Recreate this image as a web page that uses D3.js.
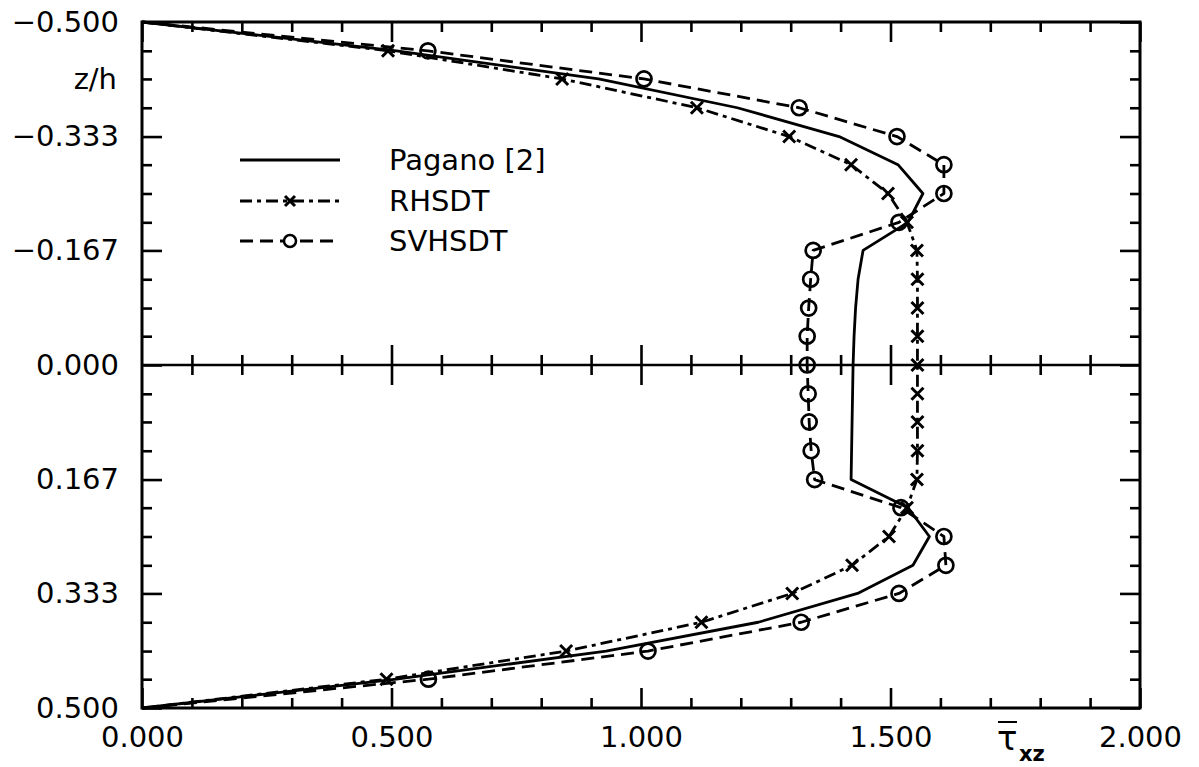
<!DOCTYPE html>
<html><head><meta charset="utf-8">
<script src="https://cdn.jsdelivr.net/npm/d3@7"></script>
<style>
body{margin:0;background:#fff;}
svg text{font-family:"DejaVu Sans",sans-serif;fill:#000;}
</style></head><body>
<svg id="chart" width="1199" height="767"></svg>
<script>
// ---- data ----
const zLevels = [-0.500,-0.458,-0.417,-0.375,-0.333,-0.292,-0.250,-0.208,-0.167,-0.125,-0.083,-0.042,0.000,
                 0.042,0.083,0.125,0.167,0.208,0.250,0.292,0.333,0.375,0.417,0.458,0.500];
const pagano = [0.000,0.510,0.915,1.193,1.397,1.515,1.565,1.535,1.445,1.435,1.430,1.427,1.425,
                1.424,1.423,1.422,1.421,1.535,1.578,1.545,1.434,1.235,0.930,0.510,0.000];
const rhsdt  = [0.000,0.493,0.842,1.112,1.297,1.421,1.495,1.533,1.553,1.554,1.554,1.554,1.554,
                1.554,1.554,1.554,1.553,1.533,1.497,1.423,1.303,1.121,0.850,0.490,0.000];
const svhsdt = [0.000,0.573,1.006,1.317,1.513,1.607,1.607,1.517,1.345,1.340,1.336,1.333,1.333,
                1.335,1.337,1.341,1.348,1.521,1.607,1.611,1.517,1.321,1.014,0.574,0.000];
const seriesNames = ["Pagano [2]","RHSDT","SVHSDT"];
const xMajorTicks = [0,0.5,1,1.5,2];
const xTickLabels = ["0.000","0.500","1.000","1.500","2.000"];
const xMinorTicks = [0.1,0.2,0.3,0.4,0.6,0.7,0.8,0.9,1.1,1.2,1.3,1.4,1.6,1.7,1.8,1.9];
const yMajorTicks = [-0.5,-0.333,-0.167,0,0.167,0.333,0.5];
const yTickLabels = ["\u22120.500","\u22120.333","\u22120.167","0.000","0.167","0.333","0.500"];
const yAxisTitle = "z/h";
const yAxisTitlePos = -0.417;

// ---- layout ----
const svg = d3.select("#chart");
const x = d3.scaleLinear().domain([0,2]).range([142,1140]);
const y = d3.scaleLinear().domain([-0.5,0.5]).range([22,708]);
const yMinorTicks = zLevels.filter(z => !yMajorTicks.some(m => Math.abs(m - z) < 0.002));
const MAJ = 20, MIN = 10, TW = 2.6;

function styleAxis(g){
  g.select(".domain").remove();
  g.selectAll(".tick line").attr("stroke","#000").attr("stroke-width",TW);
  g.selectAll(".tick text").style("font-size","29px").attr("fill","#000");
}
// bottom
svg.append("g").attr("transform",`translate(0,${y(0.5)})`)
  .call(d3.axisBottom(x).tickValues(xMajorTicks).tickSize(-MAJ).tickPadding(18)
        .tickFormat((d,i)=>xTickLabels[i])).call(styleAxis);
svg.append("g").attr("transform",`translate(0,${y(0.5)})`)
  .call(d3.axisBottom(x).tickValues(xMinorTicks).tickSize(-MIN).tickFormat("")).call(styleAxis);
// top
svg.append("g").attr("transform",`translate(0,${y(-0.5)})`)
  .call(d3.axisTop(x).tickValues(xMajorTicks).tickSize(-MAJ).tickFormat("")).call(styleAxis);
svg.append("g").attr("transform",`translate(0,${y(-0.5)})`)
  .call(d3.axisTop(x).tickValues(xMinorTicks).tickSize(-MIN).tickFormat("")).call(styleAxis);
// left
svg.append("g").attr("transform",`translate(${x(0)},0)`)
  .call(d3.axisLeft(y).tickValues(yMajorTicks).tickSize(-MAJ).tickPadding(23)
        .tickFormat((d,i)=>yTickLabels[i])).call(styleAxis);
svg.append("g").attr("transform",`translate(${x(0)},0)`)
  .call(d3.axisLeft(y).tickValues(yMinorTicks).tickSize(-MIN).tickFormat("")).call(styleAxis);
// right
svg.append("g").attr("transform",`translate(${x(2)},0)`)
  .call(d3.axisRight(y).tickValues(yMajorTicks).tickSize(-MAJ).tickFormat("")).call(styleAxis);
svg.append("g").attr("transform",`translate(${x(2)},0)`)
  .call(d3.axisRight(y).tickValues(yMinorTicks).tickSize(-MIN).tickFormat("")).call(styleAxis);
// middle axis z=0 with crossing ticks
[d3.axisBottom, d3.axisTop].forEach(ax=>{
  svg.append("g").attr("transform",`translate(0,${y(0)})`)
    .call(ax(x).tickValues(xMajorTicks.slice(1,-1)).tickSize(MAJ).tickFormat("")).call(styleAxis);
  svg.append("g").attr("transform",`translate(0,${y(0)})`)
    .call(ax(x).tickValues(xMinorTicks).tickSize(MIN).tickFormat("")).call(styleAxis);
});
svg.append("line").attr("x1",x(0)).attr("x2",x(2)).attr("y1",y(0)).attr("y2",y(0))
  .attr("stroke","#000").attr("stroke-width",TW);
// frame
svg.append("rect").attr("x",x(0)).attr("y",y(-0.5)).attr("width",x(2)-x(0)).attr("height",y(0.5)-y(-0.5))
  .attr("fill","none").attr("stroke","#000").attr("stroke-width",3);

// axis titles
svg.append("text").attr("x",117).attr("y",y(yAxisTitlePos)).attr("dy","0.35em")
  .attr("text-anchor","end").style("font-size","29px").text(yAxisTitle);
svg.append("text").attr("x",997).attr("y",750).style("font-size","34px").text("\u03C4");
svg.append("text").attr("x",1019).attr("y",761).style("font-size","21px").style("font-weight","bold").text("xz");
svg.append("line").attr("x1",998).attr("x2",1017).attr("y1",722).attr("y2",722)
  .attr("stroke","#000").attr("stroke-width",2);

// ---- series ----
const series = [
  {name:seriesNames[0], vals:pagano, dash:null, marker:null},
  {name:seriesNames[1], vals:rhsdt, dash:"12,5,4,5", marker:"x"},
  {name:seriesNames[2], vals:svhsdt, dash:"13,7", marker:"o"}
];
const line = d3.line().x(d=>x(d.v)).y(d=>y(d.z));
const plot = svg.append("g");
const xPath = "M-6,-6L6,6M-6,6L6,-6";
series.forEach(s=>{
  const pts = s.vals.map((v,i)=>({v, z:zLevels[i]}));
  plot.append("path").datum(pts).attr("d",line).attr("fill","none")
    .attr("stroke","#000").attr("stroke-width",2.8).attr("stroke-linejoin","round")
    .attr("stroke-dasharray",s.dash);
  const mpts = pts.slice(1,-1);
  if(s.marker==="x"){
    plot.selectAll(null).data(mpts).join("path")
      .attr("transform",d=>`translate(${x(d.v)},${y(d.z)})`)
      .attr("d",xPath).attr("stroke","#000").attr("stroke-width",3);
  } else if(s.marker==="o"){
    plot.selectAll(null).data(mpts).join("circle")
      .attr("cx",d=>x(d.v)).attr("cy",d=>y(d.z)).attr("r",7.5)
      .attr("fill","none").attr("stroke","#000").attr("stroke-width",2.7);
  }
});

// ---- legend ----
const legY = [160,201,241];
const lg = svg.append("g");
series.forEach((s,i)=>{
  lg.append("line").attr("x1",240).attr("x2",340).attr("y1",legY[i]).attr("y2",legY[i])
    .attr("stroke","#000").attr("stroke-width",2.8).attr("stroke-dasharray",s.dash);
  if(s.marker==="x"){
    lg.append("path").attr("transform",`translate(290,${legY[i]})`)
      .attr("d","M-5,-5L5,5M-5,5L5,-5").attr("stroke","#000").attr("stroke-width",3);
  } else if(s.marker==="o"){
    lg.append("circle").attr("cx",290).attr("cy",legY[i]).attr("r",6)
      .attr("fill","#fff").attr("stroke","#000").attr("stroke-width",2.5);
  }
  lg.append("text").attr("x",389).attr("y",legY[i]).attr("dy","0.36em")
    .style("font-size","29px").text(s.name);
});
</script>
</body></html>
